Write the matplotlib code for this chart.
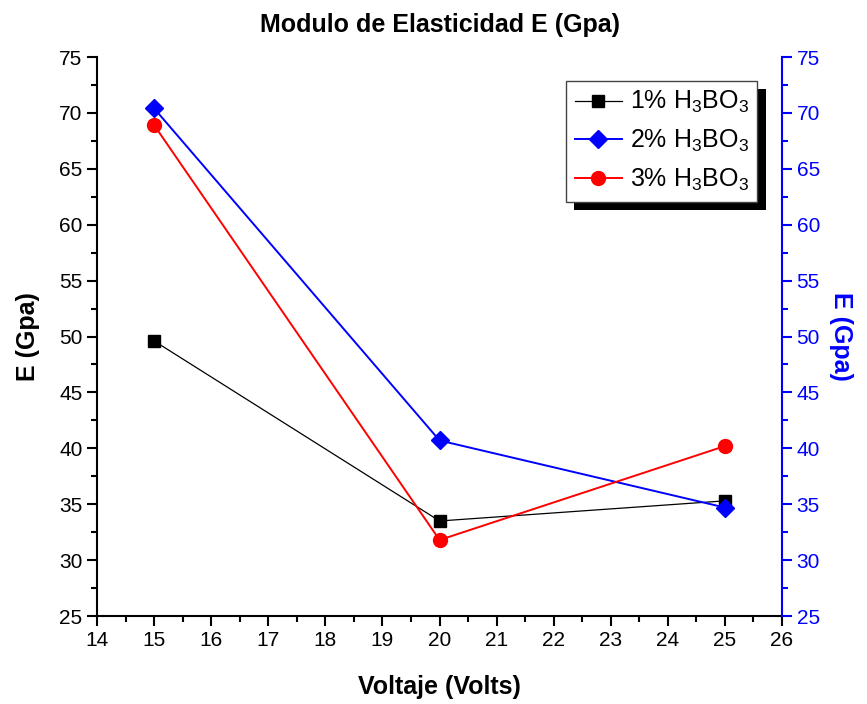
import matplotlib
matplotlib.use("Agg")
import matplotlib.pyplot as plt
import matplotlib.patheffects as pe
from matplotlib.ticker import MultipleLocator

plt.rcParams['font.family'] = ['Liberation Sans', 'DejaVu Sans']
plt.rcParams['mathtext.fontset'] = 'custom'
plt.rcParams['mathtext.rm'] = 'Liberation Sans'

voltage = [15, 20, 25]
e_1pct = [49.6, 33.5, 35.3]
e_2pct = [70.4, 40.7, 34.7]
e_3pct = [68.9, 31.8, 40.2]
labels = ['1% H$_3$BO$_3$', '2% H$_3$BO$_3$', '3% H$_3$BO$_3$']

fig = plt.figure(figsize=(8.67, 7.04), dpi=100)
ax = fig.add_axes([0.112, 0.125, 0.79, 0.794])

ax.plot(voltage, e_1pct, color='black', lw=0.9, marker='s', ms=9, label=labels[0])
ax.plot(voltage, e_2pct, color='blue', lw=1.4, marker='D', ms=9, label=labels[1])
ax.plot(voltage, e_3pct, color='red', lw=1.4, marker='o', ms=10, label=labels[2])

ax.set_xlim(14, 26)
ax.set_ylim(25, 75)
ax.xaxis.set_major_locator(MultipleLocator(1))
ax.xaxis.set_minor_locator(MultipleLocator(0.5))
ax.yaxis.set_major_locator(MultipleLocator(5))
ax.yaxis.set_minor_locator(MultipleLocator(2.5))
ax.tick_params(which='major', direction='out', length=7, width=1.5, labelsize=15)
ax.tick_params(which='minor', direction='out', length=4, width=1.5)
ax.spines['top'].set_visible(False)
ax.spines['right'].set_visible(False)
for s in ['left', 'bottom']:
    ax.spines[s].set_linewidth(1.5)

ax2 = ax.twinx()
ax2.set_ylim(25, 75)
ax2.yaxis.set_major_locator(MultipleLocator(5))
ax2.yaxis.set_minor_locator(MultipleLocator(2.5))
ax2.tick_params(which='major', direction='out', length=7, width=1.5, labelsize=15,
                colors='blue')
ax2.tick_params(which='minor', direction='out', length=4, width=1.5, colors='blue')
for s in ['left', 'top', 'bottom']:
    ax2.spines[s].set_visible(False)
ax2.spines['right'].set_color('blue')
ax2.spines['right'].set_linewidth(1.5)
ax2.set_ylabel('E (Gpa)', fontsize=18, fontweight='bold', color='blue',
               rotation=270, labelpad=24)

ax.set_xlabel('Voltaje (Volts)', fontsize=18, fontweight='bold', labelpad=18)
ax.set_ylabel('E (Gpa)', fontsize=18, fontweight='bold', labelpad=14)
ax.set_title('Modulo de Elasticidad E (Gpa)', fontsize=18, fontweight='bold', pad=18)

leg = ax.legend(loc='upper right', bbox_to_anchor=(0.964, 0.958), fontsize=18,
                fancybox=False, framealpha=1, edgecolor='#444444', borderaxespad=0,
                handlelength=1.9, handletextpad=0.3, borderpad=0.35, labelspacing=0.5)
leg.get_frame().set_linewidth(1.0)
leg.get_frame().set_path_effects([
    pe.SimplePatchShadow(offset=(6, -6), shadow_rgbFace='black', alpha=1),
    pe.Normal()])
leg.set_zorder(5)

fig.savefig('out.png', dpi=100)
